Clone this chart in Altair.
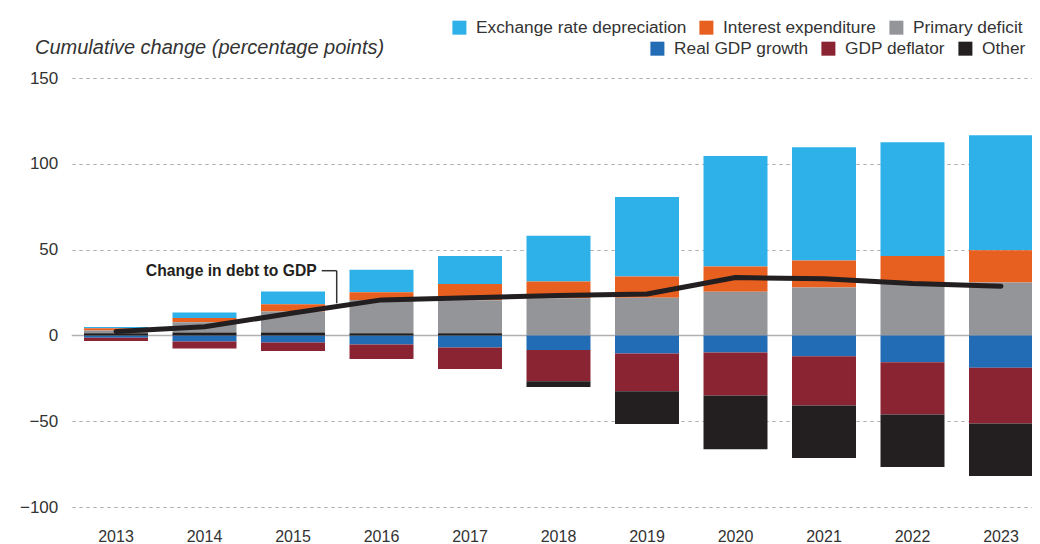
import altair as alt
import pandas as pd

FONT = "Liberation Sans"

years = [str(y) for y in range(2013, 2024)]

exchange = [0.8, 3.3, 7.4, 13.1, 16.2, 26.7, 46.3, 64.4, 66.1, 66.3, 67.1]
interest = [1.3, 2.5, 4.2, 4.5, 9.5, 9.7, 12.4, 14.7, 15.7, 15.5, 18.8]
primary = [1.6, 5.9, 12.3, 19.4, 19.3, 21.7, 21.9, 25.4, 27.9, 30.8, 30.8]
real_gdp = [-1.4, -3.5, -4.1, -5.3, -7.0, -8.5, -10.5, -9.9, -12.2, -15.7, -18.8]
deflator = [-1.9, -4.1, -5.0, -8.5, -12.6, -18.2, -22.1, -25.1, -28.7, -30.4, -32.5]
other = [1.2, 1.7, 1.7, 1.2, 1.2, -3.3, -19.1, -31.3, -30.6, -30.6, -30.7]
debt = [2.3, 5.0, 13.0, 20.7, 22.0, 23.3, 24.1, 33.7, 33.0, 30.2, 28.7]

names_a = ["Exchange rate depreciation", "Interest expenditure", "Primary deficit"]
colors_a = ["#2db1e8", "#e8601f", "#939598"]
names_b = ["Real GDP growth", "GDP deflator", "Other"]
colors_b = ["#216cb5", "#8a2432", "#231f20"]

series = [
    ("Exchange rate depreciation", exchange, "A"),
    ("Interest expenditure", interest, "A"),
    ("Primary deficit", primary, "A"),
    ("Real GDP growth", real_gdp, "B"),
    ("GDP deflator", deflator, "B"),
    ("Other", other, "B"),
]
stack_rank = {"Primary deficit": 1, "Interest expenditure": 2, "Exchange rate depreciation": 3,
              "Real GDP growth": 0, "GDP deflator": 1}

rows = []
for name, vals, grp in series:
    for yr, v in zip(years, vals):
        if name == "Other":
            rk = 0 if v > 0 else 2
        else:
            rk = stack_rank[name]
        rows.append({"year": yr, "series": name, "value": v, "rank": rk, "grp": grp})
df = pd.DataFrame(rows)

line_df = pd.DataFrame({"year": years, "debt": debt})

y_scale = alt.Scale(domain=[-100, 150], nice=False, zero=False)
y_axis = alt.Axis(values=[-100, -50, 0, 50, 100, 150], title=None, grid=True,
                  gridDash=[3.5, 3.5], gridColor="#b0b0b0", gridWidth=1,
                  domain=False, ticks=False, labelPadding=14, labelFontSize=17,
                  labelColor="#333333", labelFont=FONT)
x_enc = alt.X("year:N", sort=years,
              scale=alt.Scale(domain=years, range=[0, 973.5],
                              paddingInner=0.277, paddingOuter=0.1385),
              axis=alt.Axis(title=None, domain=False, ticks=False, labelPadding=21,
                            labelFontSize=16, labelColor="#333333", labelFont=FONT,
                            labelAngle=0))

def legend(x, y):
    return alt.Legend(title=None, orient="none", direction="horizontal",
                      legendX=x, legendY=y, symbolType="square", symbolSize=196,
                      symbolStrokeWidth=0, symbolOpacity=1, labelFontSize=17.3,
                      labelFont=FONT, labelColor="#333333", columnPadding=11,
                      labelOffset=8, padding=0, labelLimit=400)

base = alt.Chart(df).transform_stack(
    stack="value", groupby=["year"], sort=[alt.SortField("rank", "ascending")],
    as_=["v0", "v1"])

zero = alt.Chart(pd.DataFrame({"z": [0]})).mark_rule(
    color="#b0b0b0", strokeWidth=1.5).encode(y=alt.Y("z:Q", scale=y_scale, axis=y_axis))

bars_a = base.transform_filter(alt.datum.grp == "A").mark_bar().encode(
    x=x_enc,
    y=alt.Y("v0:Q", scale=y_scale, axis=y_axis),
    y2="v1:Q",
    color=alt.Color("series:N", scale=alt.Scale(domain=names_a, range=colors_a),
                    legend=legend(379, -59)),
)
bars_b = base.transform_filter(alt.datum.grp == "B").mark_bar().encode(
    x=x_enc,
    y=alt.Y("v0:Q", scale=y_scale, axis=y_axis),
    y2="v1:Q",
    color=alt.Color("series:N", scale=alt.Scale(domain=names_b, range=colors_b),
                    legend=legend(577, -38)),
)

line = alt.Chart(line_df).mark_line(
    color="#231f20", strokeWidth=5, strokeCap="round", strokeJoin="round").encode(
    x=x_enc, y=alt.Y("debt:Q", scale=y_scale, axis=y_axis))

ann_df = pd.DataFrame({"year": ["2015"], "y": [37.7], "y2": [18.7],
                       "label": ["Change in debt to GDP"]})
ann_text = alt.Chart(ann_df).mark_text(
    align="right", baseline="middle", dx=23.7, fontSize=15.7, fontWeight="bold",
    font=FONT, color="#231f20").encode(
    x=x_enc, y=alt.Y("y:Q", scale=y_scale, axis=y_axis), text="label:N")
ann_h = alt.Chart(ann_df).mark_rule(
    color="#333333", strokeWidth=1.5, xOffset=28.7, x2Offset=43.7).encode(
    x=x_enc, x2="year:N", y=alt.Y("y:Q", scale=y_scale, axis=y_axis))
ann_v = alt.Chart(ann_df).mark_rule(
    color="#333333", strokeWidth=1.5, xOffset=43.7).encode(
    x=x_enc, y=alt.Y("y:Q", scale=y_scale, axis=y_axis), y2="y2:Q")

title = alt.Chart(pd.DataFrame({"t": ["Cumulative change (percentage points)"]})).mark_text(
    align="left", baseline="middle", fontSize=20, fontStyle="italic", font=FONT,
    color="#333333").encode(x=alt.value(-36.75), y=alt.value(-30), text="t:N")

chart = alt.layer(zero, bars_a, bars_b, line, ann_h, ann_v, ann_text, title).resolve_scale(
    color="independent").properties(
    width=960.25, height=429,
    autosize=alt.AutoSizeParams(type="none"),
    padding={"left": 63.75, "top": 70, "right": 0, "bottom": 45},
).configure_view(stroke=None)

chart.save("out.html", embed_options={"renderer": "svg", "actions": False})
